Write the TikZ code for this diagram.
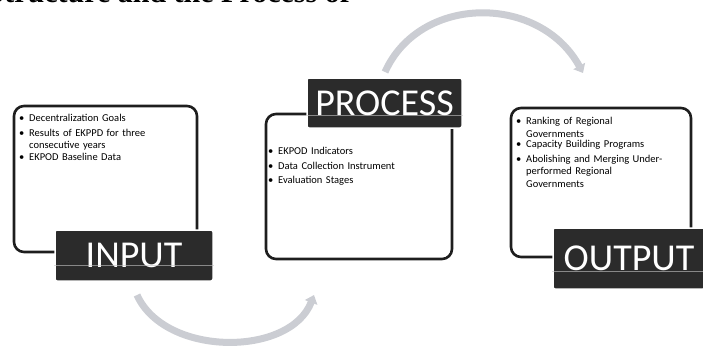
\documentclass[tikz,border=0pt]{standalone}
\usepackage{fontspec}
\setmainfont{Carlito}
\newfontfamily\titlefont{Liberation Serif}
\usetikzlibrary{arrows.meta,calc}

\definecolor{boxline}{HTML}{1E1E1E}
\definecolor{labelfill}{HTML}{2B2B2B}
\definecolor{arrowgray}{HTML}{CBCDD3}

\newcommand{\bitem}[1]{\par\noindent\makebox[10pt][l]{•}\parbox[t]{\dimexpr\linewidth-10pt\relax}{\raggedright #1}\par\vspace{2pt}}

\begin{document}
\begin{tikzpicture}[x=1pt,y=-1pt,
  frame/.style={draw=boxline, line width=2.6pt, rounded corners=10pt, inner sep=0pt},
  tag/.style={fill=labelfill, draw=white, line width=1.5pt, text=white,
    font=\fontsize{38}{38}\selectfont, inner sep=0pt, rounded corners=2pt},
  bullets/.style={anchor=north west, inner sep=0pt, text width=#1,
    font=\fontsize{10.5}{12.5}\selectfont},
  flow/.style={draw=arrowgray, line width=7pt, -{Triangle[length=8pt,width=13pt]}},
  stripe/.style={draw=gray!45, line width=0.5pt, opacity=0.6}
]
\useasboundingbox (0,0) rectangle (703,346);

% cut-off title
\node[anchor=base east, inner sep=0pt, font=\titlefont\bfseries\fontsize{30}{30}\selectfont] (title) at (350,2) {Structure and the Process of};

% frames
\node[frame, minimum width=183pt, minimum height=146pt] (inframe) at (105.5,179) {};
\node[frame, minimum width=186pt, minimum height=145pt] (prframe) at (359,186.5) {};
\node[frame, minimum width=180pt, minimum height=149pt] (outframe) at (601,182.5) {};

% bullet texts
\node[bullets=175pt] (intext) at (19,109) {%
\bitem{Decentralization Goals}
\bitem{Results of EKPPD for three\\consecutive years}
\bitem{EKPOD Baseline Data}};

\node[bullets=180pt] (prtext) at (268,142) {%
\bitem{EKPOD Indicators}
\bitem{Data Collection  Instrument}
\bitem{Evaluation Stages}};

\node[bullets=175pt] (outtext) at (516,112) {%
\bitem{Ranking of Regional\\Governments}
\bitem{Capacity Building Programs}
\bitem{Abolishing and Merging Under-\\performed Regional\\Governments}};

% labels
\node[tag, minimum width=158pt, minimum height=51pt] (inlabel) at (134,255.5) {INPUT};
\node[tag, minimum width=155pt, minimum height=50pt] (prlabel) at (384.5,103) {PROCESS};
\node[tag, minimum width=152pt, minimum height=61pt] (outlabel) at (629,258.5) {OUTPUT};

\draw[stripe] ($(inlabel.south west)!0.32!(inlabel.north west)$) -- ($(inlabel.south east)!0.32!(inlabel.north east)$);
\draw[stripe] ($(prlabel.south west)!0.26!(prlabel.north west)$) -- ($(prlabel.south east)!0.26!(prlabel.north east)$);
\draw[stripe] ($(outlabel.south west)!0.29!(outlabel.north west)$) -- ($(outlabel.south east)!0.29!(outlabel.north east)$);

% curved arrows
\coordinate (topstart) at (385,72);
\coordinate (topend) at (583,73);
\coordinate (botstart) at (137,295);
\coordinate (botend) at (314,295);
\draw[flow] (topstart) .. controls (420,-6) and (540,-6) .. (topend);
\draw[flow] (botstart) .. controls (165,357) and (290,357) .. (botend);
\end{tikzpicture}
\end{document}
